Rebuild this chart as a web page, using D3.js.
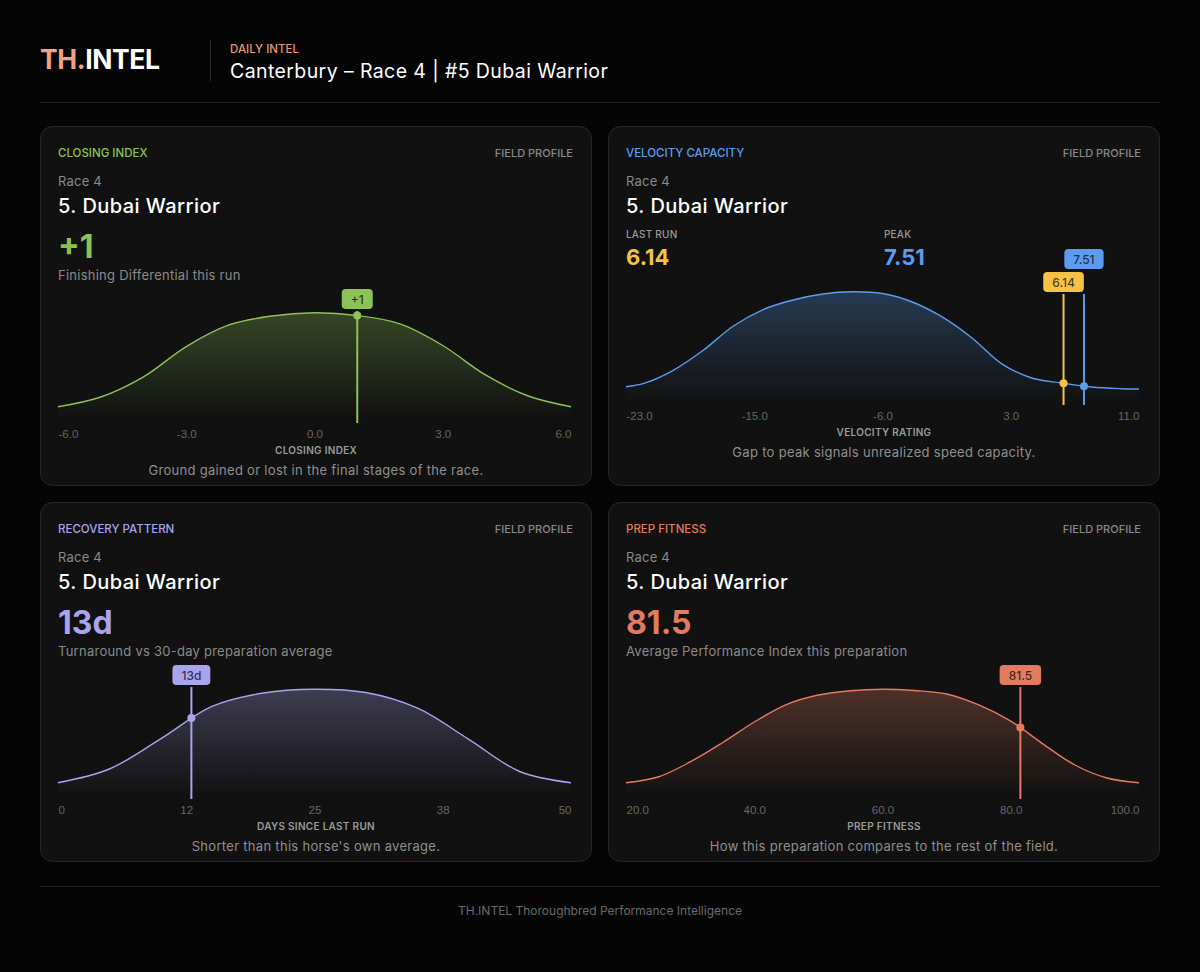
<!DOCTYPE html>
<html>
<head>
<meta charset="utf-8">
<script src="https://cdn.jsdelivr.net/npm/d3@7"></script>
<style>
html, body { margin: 0; background: #050505; }
svg { display: block; font-family: Inter, "Open Sans", sans-serif; }
</style>
</head>
<body>
<svg id="chart" width="1200" height="972"></svg>
<script>
// field profiles, density normalised to 1 = top of the plot
var closingX = [-6, -5, -4, -3, -2, -1, 0, 1, 2, 3, 4, 5, 6];
var closingDensity = [0.123, 0.213, 0.40, 0.68, 0.88, 0.963, 0.993, 0.968, 0.89, 0.69, 0.417, 0.222, 0.123];
var closingTicks = ["-6.0", "-3.0", "0.0", "3.0", "6.0"];
var closingValue = 1;

var velocityX = [-23.2, -22, -20, -18, -16, -14, -12, -10, -8, -6, -4, -2, 0, 2, 4, 6, 8, 10, 11.2];
var velocityDensity = [0.138, 0.168, 0.288, 0.468, 0.685, 0.833, 0.919, 0.973, 0.993, 0.977, 0.901, 0.766, 0.577, 0.344, 0.216, 0.171, 0.135, 0.120, 0.117];
var velocityTicks = ["-23.0", "-15.0", "-6.0", "3.0", "11.0"];
var velocityLastRun = 6.14;
var velocityPeak = 7.51;

var recoveryX = [0, 5, 10, 15, 20, 25, 30, 35, 40, 45, 50];
var recoveryDensity = [0.123, 0.25, 0.529, 0.829, 0.954, 0.989, 0.958, 0.815, 0.527, 0.227, 0.123];
var recoveryTicks = ["0", "12", "25", "38", "50"];
var recoveryValue = 13;

var prepX = [20, 25, 30, 35, 40, 45, 50, 55, 60, 65, 70, 75, 80, 85, 90, 95, 100];
var prepDensity = [0.123, 0.176, 0.315, 0.491, 0.685, 0.847, 0.935, 0.975, 0.989, 0.977, 0.944, 0.843, 0.694, 0.483, 0.287, 0.167, 0.123];
var prepTicks = ["20.0", "40.0", "60.0", "80.0", "100.0"];
var prepValue = 81.5;

var GREEN = "#8dc257", BLUE = "#5b9cf0", YELLOW = "#f5c244", LAVENDER = "#a9a4ee", SALMON = "#e27b60";

var svg = d3.select("#chart");
var defs = svg.append("defs");

// header
svg.append("text").attr("x", 40).attr("y", 69).attr("font-size", 26.5).attr("font-weight", 700)
  .attr("letter-spacing", -0.4)
  .call(function(t) {
    t.append("tspan").attr("fill", "#f0a283").text("TH.");
    t.append("tspan").attr("fill", "#fff").text("INTEL");
  });
svg.append("line").attr("x1", 210.5).attr("x2", 210.5).attr("y1", 40).attr("y2", 81).attr("stroke", "#2e2e2e");
svg.append("text").attr("x", 230).attr("y", 53).attr("font-size", 11.5).attr("font-weight", 500)
  .attr("fill", "#e8967a").text("DAILY INTEL");
svg.append("text").attr("x", 230).attr("y", 78).attr("font-size", 19.5).attr("letter-spacing", 0.4)
  .attr("fill", "#fff").text("Canterbury \u2013 Race 4 | #5 Dubai Warrior");
svg.append("line").attr("x1", 40).attr("x2", 1160).attr("y1", 102.5).attr("y2", 102.5).attr("stroke", "#222");

// footer
svg.append("line").attr("x1", 40).attr("x2", 1160).attr("y1", 886.5).attr("y2", 886.5).attr("stroke", "#222");
svg.append("text").attr("x", 600).attr("y", 915).attr("text-anchor", "middle").attr("font-size", 12)
  .attr("fill", "#6a6a6a").text("TH.INTEL Thoroughbred Performance Intelligence");

function yAtX(node, px) {
  var lo = 0, hi = node.getTotalLength();
  for (var k = 0; k < 40; k++) {
    var mid = (lo + hi) / 2;
    if (node.getPointAtLength(mid).x < px) lo = mid; else hi = mid;
  }
  return node.getPointAtLength(lo).y;
}

function panel(o) {
  var g = svg.append("g").attr("transform", "translate(" + o.left + "," + o.top + ")");
  g.append("rect").attr("x", 0.5).attr("y", 0.5).attr("width", 551).attr("height", 359)
    .attr("rx", 12).attr("fill", "#111").attr("stroke", "#262626");

  g.append("text").attr("x", 18).attr("y", 31).attr("font-size", 11.5).attr("font-weight", 500)
    .attr("fill", o.color).text(o.tag);
  g.append("text").attr("x", 533).attr("y", 31).attr("font-size", 11).attr("font-weight", 500)
    .attr("text-anchor", "end").attr("fill", "#8a8a8a").text("FIELD PROFILE");
  g.append("text").attr("x", 18).attr("y", 60).attr("font-size", 13).attr("letter-spacing", 0.2)
    .attr("fill", "#8a8a8a").text("Race 4");
  g.append("text").attr("x", 18).attr("y", 87).attr("font-size", 20).attr("font-weight", 500)
    .attr("letter-spacing", 0.45).attr("fill", "#fff").text("5. Dubai Warrior");

  if (o.stats) {
    o.stats.forEach(function(s, i) {
      var sx = 18 + i * 258;
      g.append("text").attr("x", sx).attr("y", 112).attr("font-size", 10).attr("font-weight", 500)
        .attr("letter-spacing", 0.2).attr("fill", "#9a9a9a").text(s.label);
      g.append("text").attr("x", sx).attr("y", 139).attr("font-size", 22).attr("font-weight", 700)
        .attr("fill", s.color).text(s.text);
    });
  } else {
    g.append("text").attr("x", 18).attr("y", 132).attr("font-size", 32).attr("font-weight", 700)
      .attr("fill", o.color).text(o.big);
    g.append("text").attr("x", 18).attr("y", 154).attr("font-size", 13).attr("letter-spacing", 0.25)
      .attr("fill", "#8a8a8a").text(o.sub);
  }

  var x = d3.scaleLinear().domain(d3.extent(o.xs)).range([18, 531]);
  var y = d3.scaleLinear().domain([0, 1]).range([o.yB, o.yTop]);
  var pts = o.xs.map(function(v, i) { return [v, o.ys[i]]; });
  var curve = d3.curveCatmullRom.alpha(0.5);

  var gid = "grad-" + o.id;
  var grad = defs.append("linearGradient").attr("id", gid).attr("gradientUnits", "userSpaceOnUse")
    .attr("x1", 0).attr("x2", 0).attr("y1", o.yTop).attr("y2", o.yB);
  grad.append("stop").attr("offset", "0%").attr("stop-color", o.color).attr("stop-opacity", 0.3);
  grad.append("stop").attr("offset", "100%").attr("stop-color", o.color).attr("stop-opacity", 0);

  g.append("path").datum(pts).attr("fill", "url(#" + gid + ")")
    .attr("d", d3.area().curve(curve)
      .x(function(d) { return x(d[0]); }).y0(o.yB).y1(function(d) { return y(d[1]); }));
  var line = g.append("path").datum(pts).attr("fill", "none").attr("stroke", o.color).attr("stroke-width", 1.4)
    .attr("d", d3.line().curve(curve)
      .x(function(d) { return x(d[0]); }).y(function(d) { return y(d[1]); }));

  // axis with tick labels at the quarter points
  var dom = x.domain();
  var tv = d3.range(5).map(function(i) { return dom[0] + i * (dom[1] - dom[0]) / 4; });
  var ax = g.append("g").attr("transform", "translate(0," + o.tickY + ")")
    .call(d3.axisBottom(x).tickValues(tv).tickSize(0).tickFormat(function(d, i) { return o.ticks[i]; }));
  ax.select(".domain").remove();
  ax.selectAll("text").attr("y", 0).attr("dy", 0).attr("fill", "#666").attr("font-size", 11.5)
    .attr("font-family", null)
    .attr("text-anchor", function(d, i) { return i === 0 ? "start" : i === 4 ? "end" : "middle"; });

  g.append("text").attr("x", 276).attr("y", o.tickY + 16).attr("text-anchor", "middle")
    .attr("font-size", 10).attr("font-weight", 600).attr("letter-spacing", 0.3)
    .attr("fill", "#9a9a9a").text(o.axisTitle);
  g.append("text").attr("x", 276).attr("y", o.tickY + 37).attr("text-anchor", "middle")
    .attr("font-size", 13).attr("letter-spacing", 0.3).attr("fill", "#8f8f8f").text(o.caption);

  // markers
  var prevTop = null, prevL = null, prevR = null;
  o.markers.forEach(function(m) {
    var mx = x(m.value);
    g.append("line").attr("x1", mx).attr("x2", mx).attr("y1", o.lineTop).attr("y2", o.yB + 3)
      .attr("stroke", m.color).attr("stroke-width", 2);
    g.append("circle").attr("cx", mx).attr("cy", yAtX(line.node(), mx)).attr("r", 4).attr("fill", m.color);

    var lbl = g.append("text").attr("text-anchor", "middle").attr("font-size", 12).attr("font-weight", 500)
      .attr("fill", "rgba(0,0,0,0.72)").text(m.text);
    var w = lbl.node().getComputedTextLength() + 18;
    var h = 20;
    var top = o.lineTop - 2 - h;
    if (prevTop !== null && mx - w / 2 < prevR && mx + w / 2 > prevL) top = prevTop - 3 - h;
    g.insert("rect", function() { return lbl.node(); })
      .attr("x", mx - w / 2).attr("y", top).attr("width", w).attr("height", h).attr("rx", 4).attr("fill", m.color);
    lbl.attr("x", mx).attr("y", top + 14.5);
    prevTop = top; prevL = mx - w / 2; prevR = mx + w / 2;
  });
}

panel({
  id: "closing", left: 40, top: 126, color: GREEN, tag: "CLOSING INDEX",
  big: "+1", sub: "Finishing Differential this run",
  xs: closingX, ys: closingDensity, ticks: closingTicks,
  yB: 294, yTop: 186, lineTop: 185, tickY: 312,
  axisTitle: "CLOSING INDEX", caption: "Ground gained or lost in the final stages of the race.",
  markers: [{ value: closingValue, text: "+1", color: GREEN }]
});

panel({
  id: "velocity", left: 608, top: 126, color: BLUE, tag: "VELOCITY CAPACITY",
  stats: [{ label: "LAST RUN", text: "6.14", color: YELLOW }, { label: "PEAK", text: "7.51", color: BLUE }],
  xs: velocityX, ys: velocityDensity, ticks: velocityTicks,
  yB: 276, yTop: 165, lineTop: 168, tickY: 294,
  axisTitle: "VELOCITY RATING", caption: "Gap to peak signals unrealized speed capacity.",
  markers: [{ value: velocityLastRun, text: "6.14", color: YELLOW }, { value: velocityPeak, text: "7.51", color: BLUE }]
});

panel({
  id: "recovery", left: 40, top: 502, color: LAVENDER, tag: "RECOVERY PATTERN",
  big: "13d", sub: "Turnaround vs 30-day preparation average",
  xs: recoveryX, ys: recoveryDensity, ticks: recoveryTicks,
  yB: 294, yTop: 186, lineTop: 185, tickY: 312,
  axisTitle: "DAYS SINCE LAST RUN", caption: "Shorter than this horse's own average.",
  markers: [{ value: recoveryValue, text: "13d", color: LAVENDER }]
});

panel({
  id: "prep", left: 608, top: 502, color: SALMON, tag: "PREP FITNESS",
  big: "81.5", sub: "Average Performance Index this preparation",
  xs: prepX, ys: prepDensity, ticks: prepTicks,
  yB: 294, yTop: 186, lineTop: 185, tickY: 312,
  axisTitle: "PREP FITNESS", caption: "How this preparation compares to the rest of the field.",
  markers: [{ value: prepValue, text: "81.5", color: SALMON }]
});
</script>
</body>
</html>
